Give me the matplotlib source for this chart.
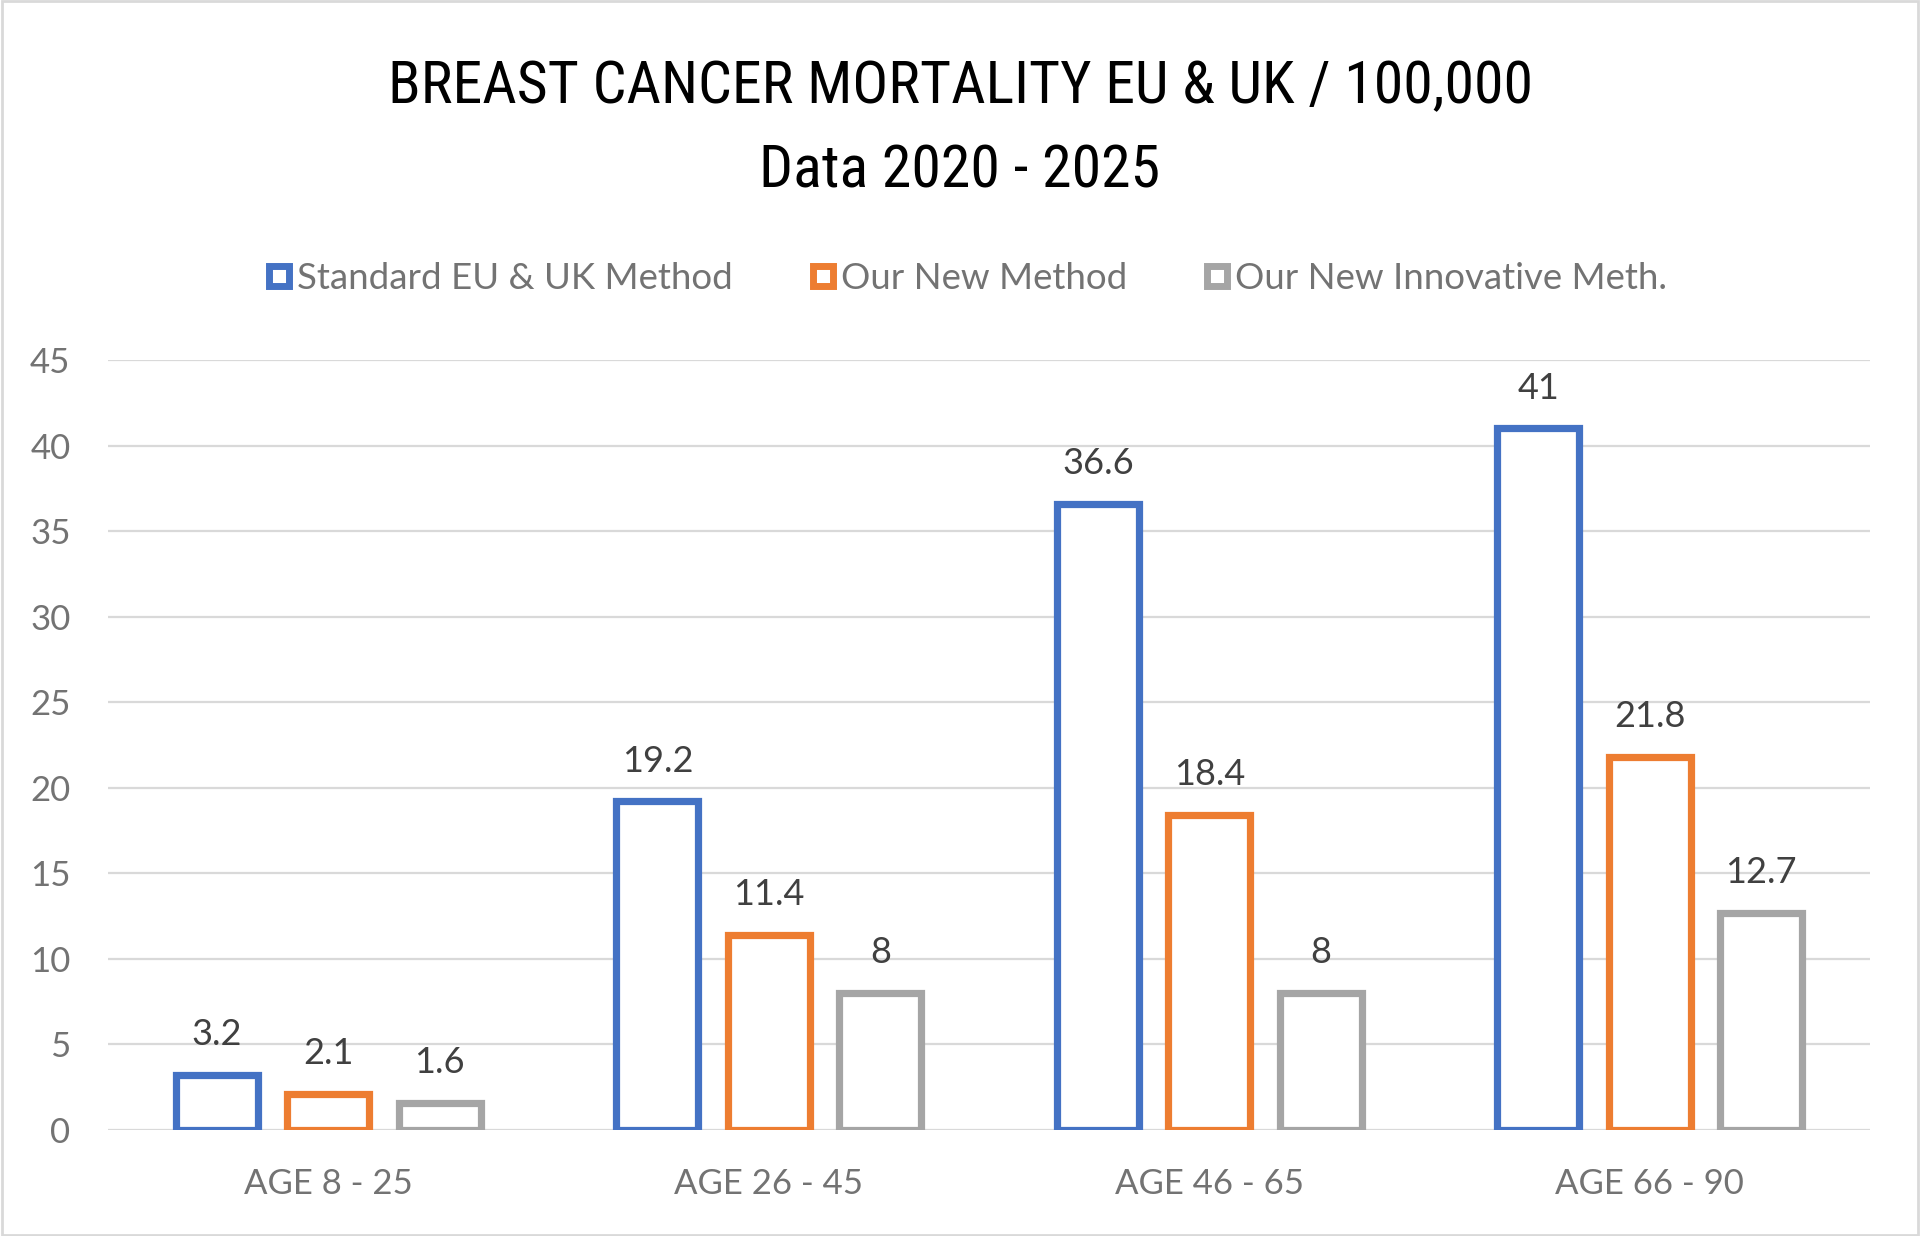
import matplotlib
matplotlib.use("Agg")
import matplotlib.pyplot as plt
from matplotlib.lines import Line2D
from matplotlib.patches import Rectangle
import numpy as np

categories = ["AGE 8 - 25", "AGE 26 - 45", "AGE 46 - 65", "AGE 66 - 90"]
series_names = ["Standard EU & UK Method", "Our New Method", "Our New Innovative Meth."]
standard = [3.2, 19.2, 36.6, 41]
new_method = [2.1, 11.4, 18.4, 21.8]
innovative = [1.6, 8, 8, 12.7]
yticks = [0, 5, 10, 15, 20, 25, 30, 35, 40, 45]
title_lines = ["BREAST CANCER MORTALITY EU & UK / 100,000", "Data 2020 - 2025"]

colors = ["#4472C4", "#ED7D31", "#A5A5A5"]
body_font = ["Lato", "DejaVu Sans"]
title_font = ["Roboto Condensed", "Liberation Sans Narrow", "DejaVu Sans"]
label_gray = "#737373"

fig = plt.figure(figsize=(19.2, 12.36), dpi=100)
ax = fig.add_axes([108/1920, 1 - 1130/1236, (1870-108)/1920, (1130-360)/1236])

x = np.arange(len(categories))
step = 0.253
width = 0.186
all_series = [standard, new_method, innovative]
for i, (vals, col) in enumerate(zip(all_series, colors)):
    pos = x + (i - 1) * step
    ax.bar(pos, vals, width=width, facecolor="white", edgecolor=col,
           linewidth=5.2, zorder=3)
    for xp, v in zip(pos, vals):
        ax.annotate(f"{v:g}", (xp, v), xytext=(0, 29), textcoords="offset points",
                    ha="center", va="center", fontsize=26, color="#404040",
                    family=body_font)

ax.set_xlim(-0.5, 3.5)
ax.set_ylim(0, 45)
ax.set_yticks(yticks)
ax.set_yticklabels([str(t) for t in yticks], family=body_font, fontsize=25, color=label_gray)
ax.set_xticks(x)
ax.set_xticklabels(categories, family=body_font, fontsize=25, color=label_gray)
ax.tick_params(axis="both", length=0)
ax.tick_params(axis="y", pad=27)
ax.tick_params(axis="x", pad=27)
ax.grid(axis="y", color="#D9D9D9", linewidth=1.6, zorder=0)
ax.set_axisbelow(True)
for s in ax.spines.values():
    s.set_visible(False)

fig.text(0.5, 1 - 87/1236, title_lines[0], ha="center", va="center",
         fontsize=43, family=title_font, color="black")
fig.text(0.5, 1 - 171/1236, title_lines[1], ha="center", va="center",
         fontsize=43, family=title_font, color="black")

handles = [Line2D([], [], linestyle="none", marker="s", markersize=14.5,
                  markerfacecolor="white", markeredgecolor=c, markeredgewidth=5)
           for c in colors]
leg = fig.legend(handles, series_names, loc="center", bbox_to_anchor=(0.503, 1 - 278/1236),
                 ncol=3, frameon=False, handletextpad=0.1, columnspacing=2.05,
                 handlelength=0.8, prop={"family": body_font, "size": 26.4})
for t in leg.get_texts():
    t.set_color(label_gray)

fig.patches.append(Rectangle((0.001, 0.001), 0.998, 0.998, transform=fig.transFigure,
                             fill=False, edgecolor="#D9D9D9", linewidth=2))

fig.savefig("out.png", dpi=100)
